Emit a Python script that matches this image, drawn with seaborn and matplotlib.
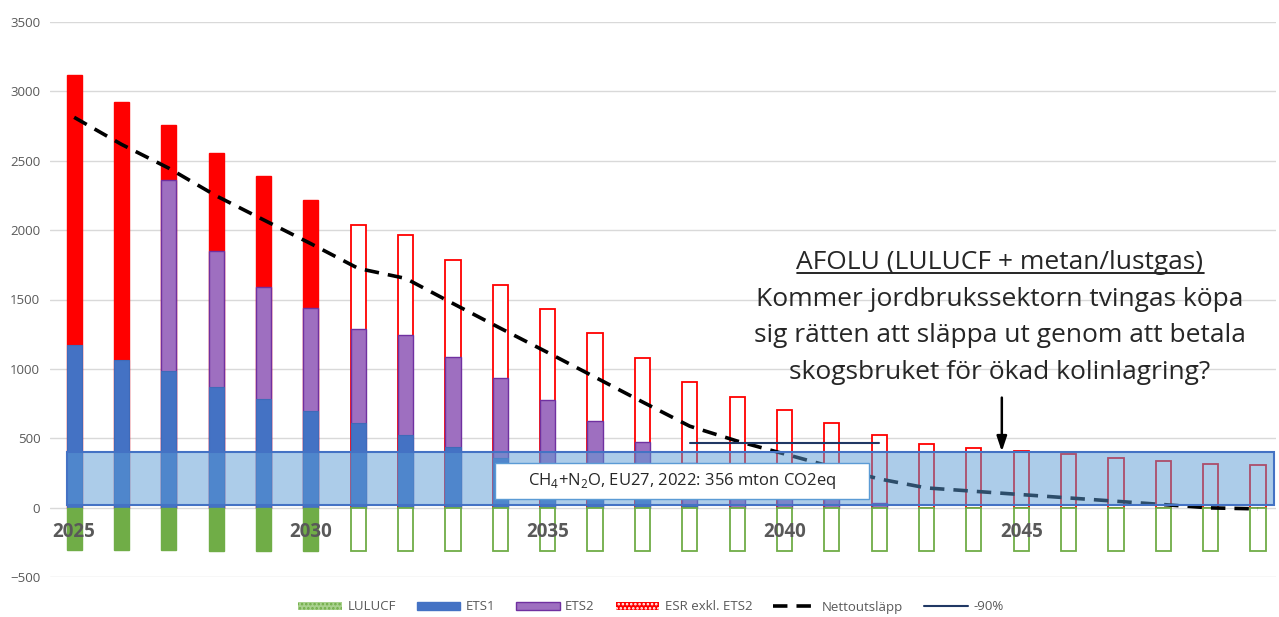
import pandas as pd
import numpy as np
import matplotlib.pyplot as plt
import seaborn as sns
from matplotlib.patches import Patch, Rectangle
from matplotlib.lines import Line2D

# values (mton CO2eq)
years = list(range(2025, 2051))
ets1 = [1175, 1065, 984, 870, 784, 697, 611, 524, 440, 356, 270, 185, 100, 15,
        0, 0, 0, 0, 0, 0, 0, 0, 0, 0, 0, 0]
ets2 = [0, 0, 1377, 981, 808, 741, 676, 719, 647, 577, 509, 440, 374, 305,
        200, 120, 70, 36, 0, 0, 0, 0, 0, 0, 0, 0]
esr = [1943, 1859, 394, 707, 795, 779, 752, 724, 699, 675, 654, 630, 603, 582,
       595, 582, 539, 486, 457, 433, 409, 385, 361, 337, 313, 306]
lulucf = [-305, -307, -309, -311, -313, -315, -315, -315, -315, -315, -315, -315, -315,
          -315, -315, -315, -315, -315, -315, -315, -315, -315, -315, -315, -315, -315]
netto = [2813, 2618, 2446, 2247, 2074, 1902, 1724, 1652, 1471, 1293, 1118, 940, 762,
         587, 480, 387, 294, 207, 142, 118, 94, 70, 46, 22, -2, -9]
minus90_years = [2038, 2039, 2040, 2041, 2042]
minus90 = [465, 465, 465, 465, 465]
afolu_low, afolu_high = 19, 404
year_labels = ['2025', '2030', '2035', '2040', '2045']
y_ticks = [-500, 0, 500, 1000, 1500, 2000, 2500, 3000, 3500]
ch4_text = 'CH$_\\mathregular{4}$+N$_\\mathregular{2}$O, EU27, 2022: 356 mton CO2eq'
afolu_title = 'AFOLU (LULUCF + metan/lustgas)'
afolu_lines = ['Kommer jordbrukssektorn tvingas köpa',
               'sig rätten att släppa ut genom att betala',
               'skogsbruket för ökad kolinlagring?']

sns.set_style('white')
plt.rcParams['font.family'] = ['Open Sans', 'DejaVu Sans']
plt.rcParams['hatch.linewidth'] = 1.2

df = pd.DataFrame({'year': years, 'ets1': ets1, 'ets2': ets2, 'esr': esr,
                   'lulucf': lulucf, 'netto': netto})
df['ets2_top'] = df['ets1'] + df['ets2']
df['esr_top'] = df['ets2_top'] + df['esr']
solid = df['year'] <= 2030

fig = plt.figure(figsize=(12.79, 6.17), dpi=100)
ax = fig.add_axes([50 / 1279, 40 / 617, 1226 / 1279, 555 / 617])

bar_kw = dict(x='year', native_scale=True, width=0.32, saturation=1, errorbar=None, ax=ax)
sns.barplot(data=df[solid], y='esr_top', color='#FF0000', edgecolor='#FF0000', linewidth=1, **bar_kw)
sns.barplot(data=df[~solid], y='esr_top', color='white', edgecolor='#FF0000', linewidth=1.3, **bar_kw)
sns.barplot(data=df[df['ets2'] > 0], y='ets2_top', color='#9E6FC0', edgecolor='#7030A0', linewidth=1, **bar_kw)
sns.barplot(data=df[df['ets1'] > 0], y='ets1', color='#4472C4', edgecolor='#3F6AB8', linewidth=0.8, **bar_kw)
sns.barplot(data=df[solid], y='lulucf', color='#70AD47', edgecolor='#70AD47', linewidth=1, **bar_kw)
sns.barplot(data=df[~solid], y='lulucf', color='white', edgecolor='#70AD47', linewidth=1.3, **bar_kw)

sns.lineplot(data=df, x='year', y='netto', color='black', lw=2.6,
             linestyle=(0, (4, 2.5)), ax=ax, zorder=3)
sns.lineplot(x=minus90_years, y=minus90, color='#203864', lw=1.5, ax=ax, zorder=3)

# AFOLU band
ax.add_patch(Rectangle((2024.85, afolu_low), 2050.34 - 2024.85, afolu_high - afolu_low,
                       facecolor=(0.357, 0.608, 0.835, 0.5), edgecolor='#4472C4',
                       lw=1.5, zorder=4))
ax.add_patch(Rectangle((2033.89, 61), 7.9, 263, facecolor='white',
                       edgecolor='#5B9BD5', lw=1, zorder=5))
ax.text(2037.84, 190, ch4_text, ha='center', va='center', fontsize=12, zorder=6)

for lab in year_labels:
    ax.text(int(lab), -178, lab, ha='center', va='center', fontsize=13.5,
            fontweight='bold', color='#595959', zorder=7)

ax.annotate('', xy=(2044.59, 404), xytext=(2044.59, 793),
            arrowprops=dict(arrowstyle='-|>,head_length=0.45,head_width=0.15',
                            color='black', lw=1.8, mutation_scale=20,
                            shrinkA=0, shrinkB=0), zorder=6)

ax.set_xlim(2024.49, 2050.38)
ax.set_ylim(-500, 3500)
ax.set_yticks(y_ticks)
ax.set_xticks([])
ax.set_xlabel('')
ax.set_ylabel('')
ax.grid(axis='y', color='#D9D9D9', lw=1)
ax.set_axisbelow(True)
ax.tick_params(axis='y', length=0, pad=7, labelsize=9.5, labelcolor='#595959')
for s in ax.spines.values():
    s.set_visible(False)

title = fig.text(1000 / 1279, 1 - 269 / 617, afolu_title, ha='center', va='baseline', fontsize=19)
for line, yb in zip(afolu_lines, [306, 342.5, 379]):
    fig.text(1000 / 1279, 1 - yb / 617, line, ha='center', va='baseline', fontsize=19)

handles = [Patch(facecolor='#A9D18E', edgecolor='#70AD47', hatch='....', lw=0),
           Patch(facecolor='#4472C4', edgecolor='#4472C4'),
           Patch(facecolor='#9E6FC0', edgecolor='#7030A0'),
           Patch(facecolor='#FF0000', edgecolor='white', hatch='....', lw=0),
           Line2D([], [], color='black', lw=2.6, linestyle=(0, (4, 2.5))),
           Line2D([], [], color='#203864', lw=1.5)]
labels = ['LULUCF', 'ETS1', 'ETS2', 'ESR exkl. ETS2', 'Nettoutsläpp', '-90%']
fig.legend(handles, labels, loc='center', bbox_to_anchor=(651 / 1279, 1 - 607 / 617),
           ncol=6, frameon=False, fontsize=9.5, labelcolor='#595959',
           handlelength=3.3, handleheight=0.5, columnspacing=1.6, handletextpad=0.4)

# underline the AFOLU heading
fig.canvas.draw()
bb = title.get_window_extent().transformed(fig.transFigure.inverted())
fig.add_artist(Line2D([bb.x0, bb.x1], [1 - 272.5 / 617] * 2, color='black', lw=1.2,
                      transform=fig.transFigure))

fig.savefig('out.png', dpi=100)
